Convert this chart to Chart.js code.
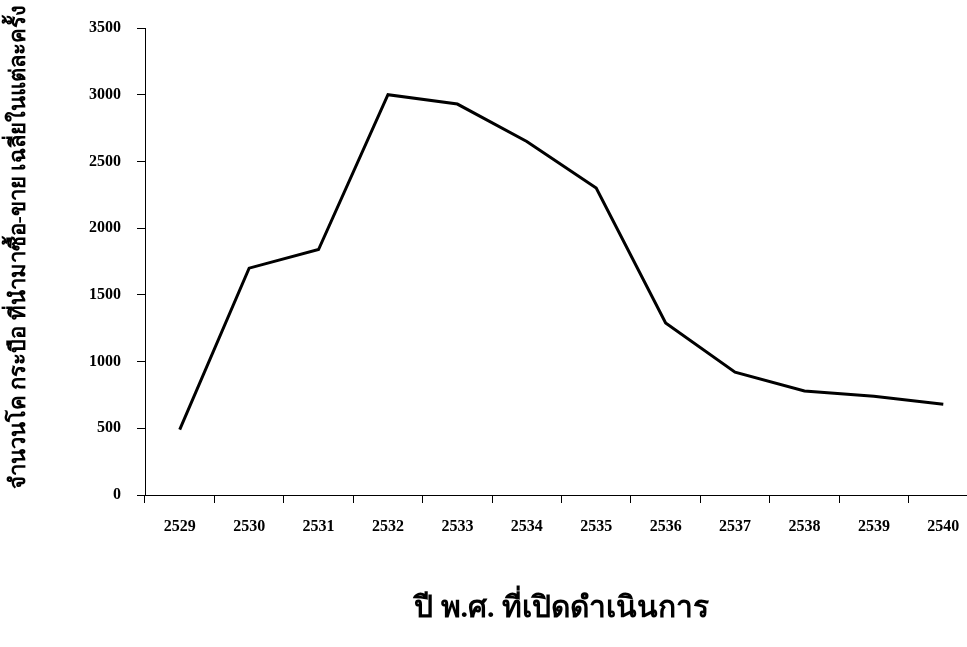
<!DOCTYPE html>
<html>
<head>
<meta charset="utf-8">
<script src="https://cdn.jsdelivr.net/npm/chart.js@4.4.0/dist/chart.umd.min.js"></script>
<style>
  html, body { margin: 0; padding: 0; background: #fff; overflow: hidden; }
  #wrap { width: 978px; height: 647px; position: relative; }
</style>
</head>
<body>
<div id="wrap"><canvas id="c"></canvas></div>
<script>
const years = ['2529','2530','2531','2532','2533','2534','2535','2536','2537','2538','2539','2540'];
const avgPerSale = [490, 1700, 1840, 3000, 2930, 2650, 2300, 1290, 920, 780, 740, 680];
const yTicks = [0, 500, 1000, 1500, 2000, 2500, 3000, 3500];
const xTitle = 'ปี พ.ศ. ที่เปิดดำเนินการ';
const yTitle = 'จำนวนโค กระบือ ที่นำมาซื้อ-ขาย เฉลี่ยในแต่ละครั้ง';

const FONT = "'Liberation Serif', 'Times New Roman', serif";

const yTitlePlugin = {
  id: 'yTitle',
  afterDraw(chart) {
    const ctx = chart.ctx;
    ctx.save();
    ctx.translate(19, 247);
    ctx.rotate(-Math.PI / 2);
    ctx.font = "bold 22px " + FONT;
    ctx.fillStyle = '#000';
    ctx.textAlign = 'center';
    ctx.textBaseline = 'middle';
    ctx.fillText(yTitle, 0, 0);
    ctx.restore();
  }
};

new Chart(document.getElementById('c'), {
  type: 'line',
  data: {
    labels: years,
    datasets: [{
      data: avgPerSale,
      borderColor: '#000',
      borderWidth: 3,
      pointRadius: 0,
      tension: 0,
      fill: false
    }]
  },
  plugins: [yTitlePlugin],
  options: {
    responsive: true,
    maintainAspectRatio: false,
    animation: false,
    plugins: { legend: { display: false }, tooltip: { enabled: false } },
    layout: { padding: { top: 28, right: 0, left: 0, bottom: 20 } },
    scales: {
      x: {
        offset: true,
        grid: { offset: true, drawOnChartArea: false, drawTicks: true, tickLength: 8, color: '#000', lineWidth: 1 },
        border: { color: '#000', width: 1 },
        ticks: { color: '#000', font: { family: FONT, size: 16, weight: 'bold' }, padding: 14, maxRotation: 0 },
        title: { display: true, text: xTitle, color: '#000', font: { family: FONT, size: 30, weight: 'bold' }, padding: { top: 4, bottom: 0 } },
        afterFit: (s) => { s.height = 132; }
      },
      y: {
        min: 0, max: 3500,
        afterBuildTicks: (s) => { s.ticks = yTicks.map(v => ({ value: v })); },
        grid: { drawOnChartArea: false, drawTicks: true, tickLength: 8, color: '#000', lineWidth: 1 },
        border: { color: '#000', width: 1 },
        ticks: { color: '#000', font: { family: FONT, size: 16, weight: 'bold' }, padding: 16, callback: (v) => String(v) },
        title: { display: false },
        afterFit: (s) => { s.width = 145; }
      }
    }
  }
});
</script>
</body>
</html>
